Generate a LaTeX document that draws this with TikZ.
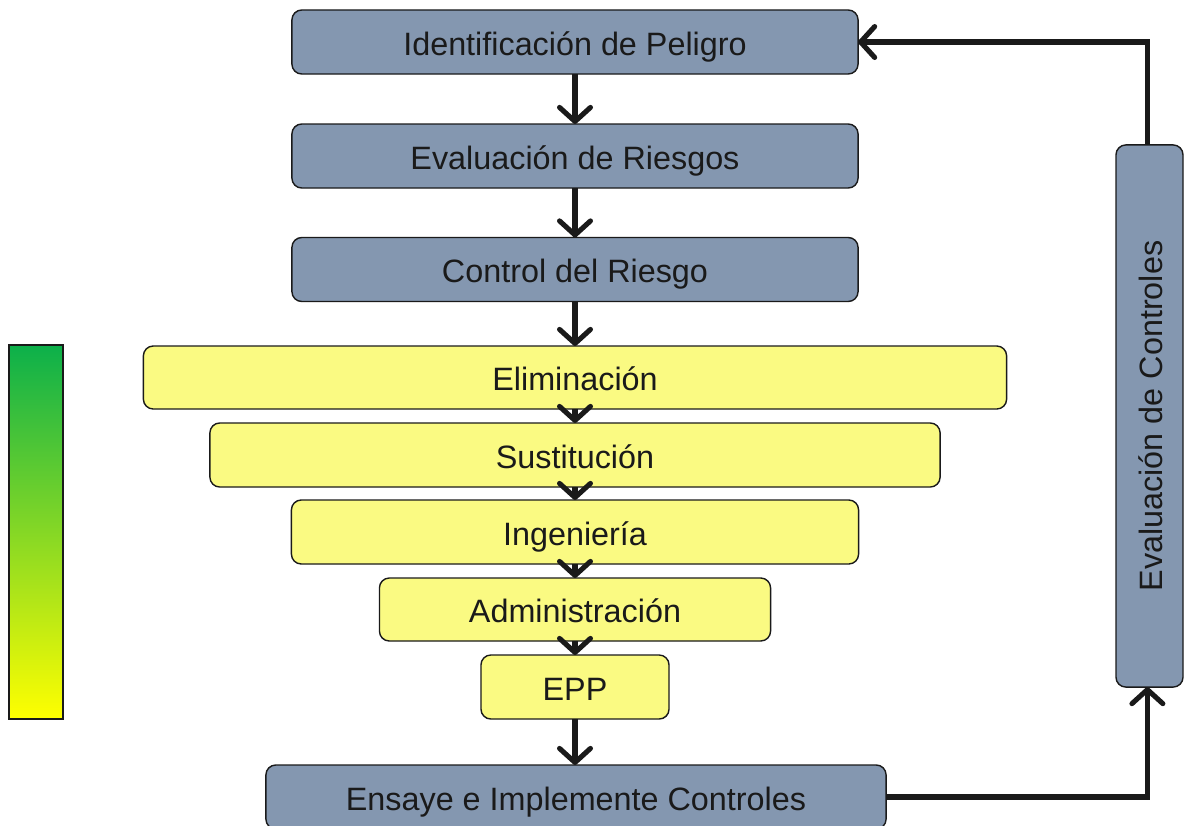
\documentclass[tikz,border=0pt]{standalone}
\usepackage{fontspec}
\setmainfont{Liberation Sans}
\usetikzlibrary{arrows.meta}
\definecolor{boxblue}{HTML}{8497B0}
\definecolor{boxyellow}{HTML}{FAFA82}
\definecolor{ink}{HTML}{1A1A1A}
\definecolor{topgreen}{HTML}{0CB04A}
\definecolor{botyellow}{HTML}{FFFF00}
\tikzset{
  base/.style={draw=ink, line width=1pt, rounded corners=7pt, inner sep=0pt, outer sep=0pt,
    text=ink, font=\fontsize{23}{27}\selectfont, align=center, text height=18.6pt, text depth=0pt},
  bluebox/.style={base, fill=boxblue},
  yelbox/.style={base, fill=boxyellow},
  flow/.style={draw=ink, line width=3.6pt, -{Straight Barb[length=10pt,width=22pt,line cap=round,round]}},
  link/.style={draw=ink, line width=3.6pt, line join=miter, -{Straight Barb[length=10pt,width=22pt,line cap=round,round]}}
}
\begin{document}
\begin{tikzpicture}[x=0.025cm,y=-0.025cm]
\useasboundingbox (0,0) rectangle (1184,825);
\node[bluebox, minimum width=14.15cm, minimum height=1.6cm] (id) at (575,42) {Identificación de Peligro};
\node[bluebox, minimum width=14.15cm, minimum height=1.6cm] (er) at (575,156) {Evaluación de Riesgos};
\node[bluebox, minimum width=14.15cm, minimum height=1.6cm] (cr) at (575,269.5) {Control del Riesgo};
\node[yelbox, minimum width=21.575cm, minimum height=1.575cm] (el) at (575,377.5) {Eliminación};
\node[yelbox, minimum width=18.25cm, minimum height=1.6cm] (su) at (575,455) {Sustitución};
\node[yelbox, minimum width=14.175cm, minimum height=1.6cm] (in) at (575,532) {Ingeniería};
\node[yelbox, minimum width=9.775cm, minimum height=1.575cm] (ad) at (575,609.5) {Administración};
\node[yelbox, minimum width=4.7cm, minimum height=1.6cm] (ep) at (575,687) {EPP};
\node[bluebox, minimum width=15.5cm, minimum height=1.6cm] (en) at (576,797) {Ensaye e Implemente Controles};
\node[bluebox, rotate=90, minimum width=13.55cm, minimum height=1.675cm] (ec) at (1149.5,416) {Evaluación de Controles};
\shade[top color=topgreen, bottom color=botyellow, draw=ink, line width=1.5pt] (9,345) rectangle (63,719);
\draw[flow] (id.south) -- (er.north);
\draw[flow] (er.south) -- (cr.north);
\draw[flow] (cr.south) -- (el.north);
\draw[flow] (el.south) -- (su.north);
\draw[flow] (su.south) -- (in.north);
\draw[flow] (in.south) -- (ad.north);
\draw[flow] (ad.south) -- (ep.north);
\draw[flow] (ep.south) -- (ep.south |- en.north);
\draw[link] (en.east) -| ([xshift=-1.5]ec.west);
\draw[link] ([xshift=-1.5]ec.east) |- (id.east);
\end{tikzpicture}
\end{document}
